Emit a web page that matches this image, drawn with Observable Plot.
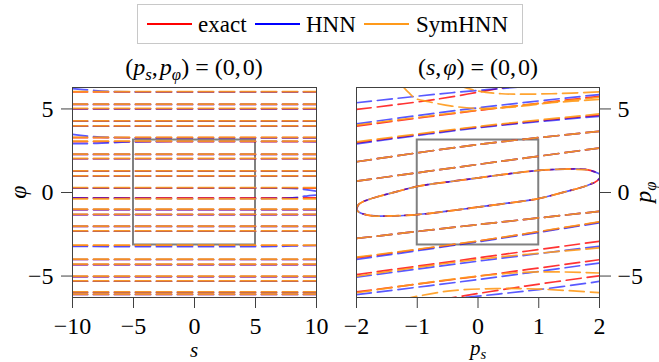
<!DOCTYPE html>
<html><head><meta charset="utf-8">
<script src="https://cdn.jsdelivr.net/npm/d3@7"></script>
<script src="https://cdn.jsdelivr.net/npm/@observablehq/plot@0.6"></script>
<style>
body{margin:0;background:#fff;}
#wrap{position:relative;width:659px;height:362px;font-family:"Liberation Serif","Times New Roman","DejaVu Serif",serif;color:#000;overflow:hidden;}
#wrap svg, #wrap svg text{font-family:inherit !important;}
.abs{position:absolute;white-space:nowrap;line-height:1;}
#legend{left:137px;top:4px;width:386px;height:40px;border:1px solid #c8c8c8;box-sizing:border-box;}
.lg-line{position:absolute;height:0;border-top:2px solid;}
.lg-text{position:absolute;font-size:23px;top:8px;}
.t{font-size:24px;transform:translateX(-50%);}
sub{font-size:70%;vertical-align:-0.3em;line-height:0;}
svg{position:absolute;overflow:visible;}
</style></head>
<body><div id="wrap"></div>
<script>
// ---------- data ----------
const TAU = 6.2832;
const sDomain = [-10, 10];
const psDomain = [-2, 2];
const phiDomain = [-TAU, TAU];
const sTicks = [-10, -5, 0, 5, 10];
const psTicks = [-2, -1, 0, 1, 2];
const phiTicks = [-5, 0, 5];
const boxLeft = {x1: -5, x2: 5, y1: -3.14, y2: 3.14};
const boxRight = {x1: -1, x2: 1, y1: -3.14, y2: 3.14};

// left panel (p_s, p_phi) = (0,0): horizontal contour levels in phi
const exactPhiLevels = [6.02, 5.27, 5.01, 4.27, 3.97, 3.28, 3.05, 2.28, 2.02, 1.28, 0.98, 0.26, -0.32, -1.02, -1.32, -2.03, -2.32, -3.17, -4.01, -4.31, -5.03, -5.31, -5.97, -6.10];
const symPhiLevels   = [6.04, 5.29, 5.03, 4.29, 3.99, 3.30, 3.07, 2.30, 2.04, 1.30, 1.00, 0.29, -0.38, -1.00, -1.30, -2.01, -2.30, -3.15, -3.99, -4.29, -5.01, -5.29, -5.95, -6.08];
const hnnPhiLevels   = [5.27, 5.01, 4.27, 3.97, 2.28, 2.02, 1.28, 0.98, -1.02, -1.32, -2.03, -2.32, -4.01, -4.31, -5.03, -5.31, -5.97, -6.10];
// HNN contours that bend in the left panel: [s, phi]
const hnnLeftCurves = [
  [[-10, 6.22], [-8.5, 6.12], [-7, 6.05], [10, 6.03]],
  [[-10, 3.48], [-8.5, 3.36], [-6.5, 3.29], [10, 3.27]],
  [[-10, 2.92], [-8, 2.94], [-5, 3.03], [10, 3.05]],
  [[-10, 0.26], [7, 0.26], [8.5, 0.22], [10, 0.08]],
  [[-10, -0.32], [8, -0.32], [9, -0.22], [10, -0.15]],
  [[-10, -3.23], [6.5, -3.23], [8, -3.2], [10, -3.17]]
];

// right panel (s, phi) = (0,0): contours in (p_s, p_phi)
const exactRight = [
  [[-2, 0.68], [0, 1.68], [2.02, 2.67]],
  [[-2, 1.84], [0, 2.87], [2.02, 3.67]],
  [[-2, 2.97], [0, 3.91], [2.02, 4.63]],
  [[-2, 3.97], [0, 4.91], [2.02, 5.77]],
  [[-2, 4.97], [-0.7, 5.57], [0.6, 6.4]],
  [[-2, -2.75], [0, -1.92], [2.02, -1.12]],
  [[-2, -3.91], [0, -2.91], [2.02, -1.76]],
  [[-2, -4.91], [0, -3.91], [2.02, -2.91]],
  [[-2, -5.95], [0, -5.01], [2.02, -4.01]],
  [[-0.6, -6.4], [0.78, -5.6], [2.02, -4.97]]
];
const hnnRight = [
  [[-2, 0.68], [0, 1.68], [2.02, 2.67]],
  [[-2, 1.84], [0, 2.87], [2.02, 3.67]],
  [[-2, 2.91], [0, 3.87], [2.02, 4.57]],
  [[-2, 4.11], [0, 5.07], [2.02, 5.87]],
  [[-2, 5.37], [-0.43, 5.97], [1.0, 6.4]],
  [[-2, -2.75], [0, -1.92], [2.02, -1.12]],
  [[-2, -4.01], [0, -2.95], [2.02, -1.8]],
  [[-2, -5.07], [0, -4.11], [2.02, -3.21]],
  [[-2, -6.11], [0, -5.21], [2.02, -4.21]],
  [[-0.54, -6.4], [1.0, -5.81], [2.02, -5.31]]
];
const symRight = [
  [[-2, 0.68], [0, 1.68], [2.02, 2.67]],
  [[-2, 1.84], [0, 2.87], [2.02, 3.67]],
  [[-2, 3.03], [0, 3.95], [2.02, 4.71]],
  [[-2, 4.03], [0, 4.93], [2.02, 5.7]],
  [[-1.25, 6.4], [-1.14, 5.97], [-1.03, 5.63], [-0.81, 5.43], [-0.43, 5.17], [0.01, 5.03], [0.56, 5.11], [1.21, 5.37], [2.02, 5.57]],
  [[-0.32, 6.4], [0.01, 6.07], [0.39, 5.91], [1.21, 5.91], [2.02, 6.03]],
  [[-2, -2.75], [0, -1.92], [2.02, -1.12]],
  [[-2, -3.87], [0, -2.9], [2.02, -1.74]],
  [[-2, -5.01], [0, -4.0], [2.02, -3.31]],
  [[-2, -6.0], [0, -5.0], [1.0, -4.75], [2.02, -4.82]],
  [[-1.25, -6.4], [-0.5, -5.9], [0.3, -5.75], [1.0, -5.78], [2.02, -6.0]]
];
// closed contour (ellipse) through the centre, read point by point
const exactEllipse = [[-2.0, -1.02], [-1.96, -0.70], [-1.8, -0.42], [-1.415, -0.02], [-0.976, 0.38], [-0.483, 0.64], [0.011, 0.88], [0.505, 1.12], [0.999, 1.32], [1.438, 1.40], [1.767, 1.38], [1.959, 1.18], [2.02, 1.02], [1.96, 0.70], [1.8, 0.42], [1.415, 0.02], [0.976, -0.38], [0.483, -0.64], [-0.011, -0.88], [-0.505, -1.12], [-0.999, -1.32], [-1.438, -1.40], [-1.767, -1.38], [-1.959, -1.18], [-2.0, -1.02]];
const symEllipse = [[1.80, 1.36], [1.438, 1.40], [0.999, 1.32], [0.505, 1.12], [0.011, 0.88], [-0.483, 0.64], [-0.976, 0.38], [-1.415, -0.02], [-1.8, -0.42], [-1.96, -0.70], [-2.0, -1.02], [-1.959, -1.18], [-1.767, -1.38], [-1.438, -1.40], [-0.999, -1.32], [-0.505, -1.12], [-0.011, -0.88], [0.483, -0.64], [0.976, -0.38], [1.415, 0.02], [1.8, 0.42], [1.88, 0.58]];

const series = ["exact", "HNN", "SymHNN"];
const colors = ["#ff0000", "#0000ff", "#ff9a1a"];
const opac = [0.8, 0.65, 0.9];

// ---------- helpers ----------
function rowsFromCurves(curves, tag) {
  const out = [];
  curves.forEach((c, i) => c.forEach(([x, y]) => out.push({x, y, id: tag + i})));
  return out;
}
function rowsFromLevels(levels, xr, tag) {
  const out = [];
  levels.forEach((v, i) => { out.push({x: xr[0], y: v, id: tag + i}); out.push({x: xr[1], y: v, id: tag + i}); });
  return out;
}
const fmt = d => d < 0 ? "\u2212" + (-d) : String(d);
const dash = "15,6";
function lineMark(rows, k, offset = 0) {
  return Plot.line(rows, {x: "x", y: "y", z: "id", stroke: colors[k], strokeWidth: 1.7, strokeOpacity: opac[k],
    strokeDasharray: dash, strokeDashoffset: offset, clip: true, curve: "catmull-rom"});
}
const baseStyle = {fontSize: "24px", background: "transparent", overflow: "visible"};

// ---------- left panel ----------
const leftPlot = Plot.plot({
  width: 330, height: 282, marginLeft: 72, marginRight: 14, marginTop: 7, marginBottom: 65,
  x: {domain: sDomain}, y: {domain: phiDomain},
  style: baseStyle,
  marks: [
    Plot.rect([boxLeft], {x1: "x1", x2: "x2", y1: "y1", y2: "y2", fill: "none", stroke: "#808080", strokeWidth: 2}),
    lineMark(rowsFromLevels(exactPhiLevels, sDomain, "e"), 0),
    lineMark(rowsFromLevels(hnnPhiLevels, sDomain, "h"), 1),
    lineMark(rowsFromCurves(hnnLeftCurves, "hc"), 1),
    lineMark(rowsFromLevels(symPhiLevels, sDomain, "s"), 2),
    Plot.frame({stroke: "#404040"}),
    Plot.axisX({ticks: sTicks, tickSize: 11, tickPadding: 8, tickFormat: fmt, label: null, stroke: "#404040", fontSize: 24}),
    Plot.axisY({ticks: phiTicks, tickSize: 11, tickPadding: 8, tickFormat: fmt, label: null, stroke: "#404040", fontSize: 24})
  ]
});

// ---------- right panel ----------
const rightPlot = Plot.plot({
  width: 319, height: 282, marginLeft: 16, marginRight: 60, marginTop: 7, marginBottom: 65,
  x: {domain: psDomain}, y: {domain: phiDomain},
  style: baseStyle,
  marks: [
    Plot.rect([boxRight], {x1: "x1", x2: "x2", y1: "y1", y2: "y2", fill: "none", stroke: "#808080", strokeWidth: 2}),
    lineMark(rowsFromCurves(exactRight, "e"), 0),
    lineMark(rowsFromCurves([exactEllipse], "ee"), 0, 0),
    lineMark(rowsFromCurves(hnnRight, "h"), 1),
    lineMark(rowsFromCurves([exactEllipse], "he"), 1, 9),
    lineMark(rowsFromCurves(symRight, "s"), 2),
    lineMark(rowsFromCurves([symEllipse], "se"), 2, 4),
    Plot.frame({stroke: "#404040"}),
    Plot.axisX({ticks: psTicks, tickSize: 11, tickPadding: 8, tickFormat: fmt, label: null, stroke: "#404040", fontSize: 24}),
    Plot.axisY({ticks: phiTicks, anchor: "right", tickSize: 11, tickPadding: 7, tickFormat: fmt, label: null, stroke: "#404040", fontSize: 24})
  ]
});

// ---------- assemble ----------
const wrap = document.getElementById("wrap");
leftPlot.style.left = "0px"; leftPlot.style.top = "80px";
rightPlot.style.left = "340px"; rightPlot.style.top = "80px";
wrap.appendChild(leftPlot);
wrap.appendChild(rightPlot);

function addHTML(html, css, cls = "abs") {
  const d = document.createElement("div");
  d.className = cls;
  d.innerHTML = html;
  Object.assign(d.style, css);
  wrap.appendChild(d);
  return d;
}
// legend
const lg = addHTML("", {}, "abs");
lg.id = "legend";
const lgX = [[9, 54, 60], [117, 162, 168], [226, 271, 278]];
series.forEach((name, i) => {
  const l = document.createElement("div");
  l.className = "lg-line";
  Object.assign(l.style, {left: lgX[i][0] + "px", width: (lgX[i][1] - lgX[i][0]) + "px", top: "18px", borderTopColor: colors[i]});
  lg.appendChild(l);
  const t = document.createElement("div");
  t.className = "lg-text";
  t.style.left = lgX[i][2] + "px";
  t.textContent = name;
  lg.appendChild(t);
});
// titles
addHTML("(<i>p</i><sub><i>s</i></sub>,&#8202;<i>p</i><sub><i>\u03C6</i></sub>) = (0,&#8202;0)", {left: "194px", top: "55px"}, "abs t");
addHTML("(<i>s</i>,&#8202;<i>\u03C6</i>) = (0,&#8202;0)", {left: "478px", top: "55px"}, "abs t");
// axis labels
addHTML("<i>s</i>", {left: "194px", top: "340px", fontSize: "21px"}, "abs t");
addHTML("<i>p</i><sub><i>s</i></sub>", {left: "478px", top: "338px", fontSize: "21px"}, "abs t");
addHTML("<i>\u03C6</i>", {left: "18px", top: "192px", fontSize: "24px", transform: "translate(-50%,-50%) rotate(-90deg)"});
addHTML("<i>p</i><sub><i>\u03C6</i></sub>", {left: "643px", top: "192px", fontSize: "24px", transform: "translate(-50%,-50%) rotate(-90deg)"});
</script>
</body></html>
